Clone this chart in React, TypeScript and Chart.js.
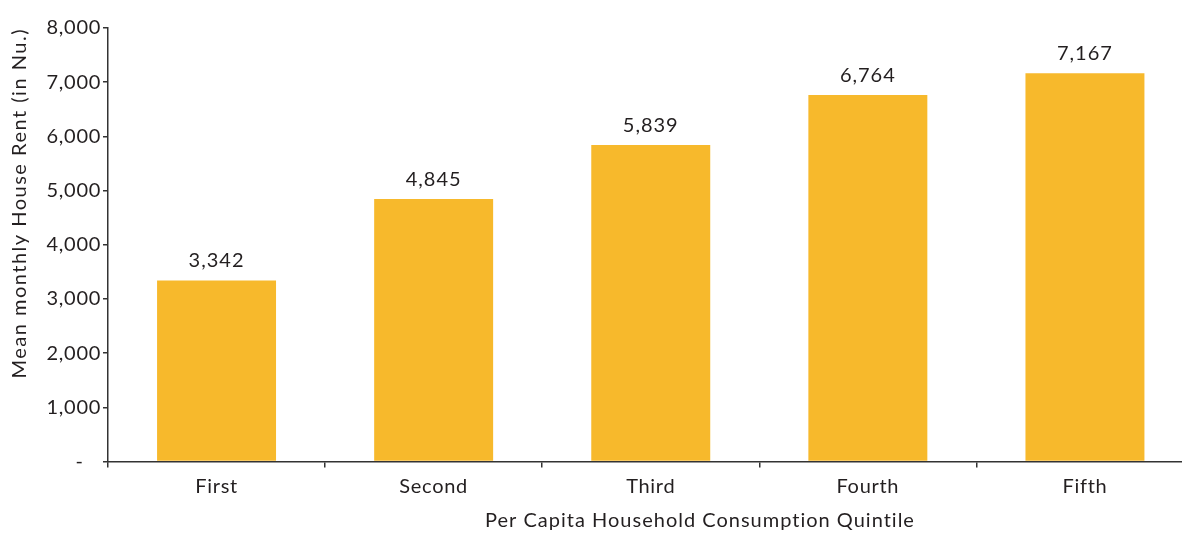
import React, { useEffect, useRef } from "react";
import { Chart, registerables } from "chart.js";

Chart.register(...registerables);

const categories: string[] = ["First", "Second", "Third", "Fourth", "Fifth"];
const rentValues: number[] = [3342, 4845, 5839, 6764, 7167];
const yMin = 0;
const yMax = 8000;
const yStep = 1000;
const yAxisTitle = "Mean monthly House Rent (in Nu.)";
const xAxisTitle = "Per Capita Household Consumption Quintile";

const FONT = "Lato";
const FS = 20;
const TEXT = "#231f20";
const BAR = "#F7B92C";
const AXIS = "#333333";

const fmt = (v: number) => v.toLocaleString("en-US");

export default function App() {
  const ref = useRef<HTMLCanvasElement | null>(null);

  useEffect(() => {
    if (!ref.current) return;
    const spacingPlugin = {
      id: "spacing",
      beforeDraw(chart: any) {
        chart.ctx.letterSpacing = "0.7px";
      },
    };
    const labelPlugin = {
      id: "barLabels",
      afterDatasetsDraw(chart: any) {
        const ctx = chart.ctx;
        const meta = chart.getDatasetMeta(0);
        ctx.save();
        ctx.font = `${FS}px ${FONT}`;
        ctx.letterSpacing = "1px";
        ctx.fillStyle = TEXT;
        ctx.textAlign = "center";
        ctx.textBaseline = "alphabetic";
        meta.data.forEach((el: any, i: number) => {
          ctx.fillText(fmt(rentValues[i]), el.x, el.y - 13);
        });
        ctx.restore();
      },
    };
    const titlesPlugin = {
      id: "titles",
      afterDraw(chart: any) {
        const ctx = chart.ctx;
        const area = chart.chartArea;
        ctx.save();
        ctx.font = `${FS}px ${FONT}`;
        ctx.fillStyle = TEXT;
        ctx.letterSpacing = "1px";
        ctx.textAlign = "center";
        ctx.textBaseline = "middle";
        ctx.fillText(xAxisTitle, area.left + 592, chart.height - 13);
        ctx.restore();

        ctx.save();
        ctx.font = `${FS}px ${FONT}`;
        ctx.fillStyle = TEXT;
        ctx.letterSpacing = "1.5px";
        ctx.translate(20, area.top);
        ctx.rotate(-Math.PI / 2);
        ctx.textAlign = "right";
        ctx.textBaseline = "middle";
        ctx.fillText(yAxisTitle, 0, 0);
        ctx.restore();
      },
    };
    const chart = new Chart(ref.current, {
      type: "bar",
      data: {
        labels: categories,
        datasets: [
          {
            data: rentValues,
            backgroundColor: BAR,
            borderWidth: 0,
            categoryPercentage: 1,
            barPercentage: 0.548,
          },
        ],
      },
      options: {
        responsive: false,
        animation: false,
        layout: { padding: { left: 0, right: 6.5, top: 28, bottom: 0 } },
        plugins: {
          legend: { display: false },
          tooltip: { enabled: false },
        },
        scales: {
          x: {
            afterFit: (scale: any) => {
              scale.height = 72.5;
            },
            grid: {
              display: true,
              drawOnChartArea: false,
              drawTicks: true,
              offset: true,
              tickLength: 6,
              color: AXIS,
              lineWidth: 1.5,
            },
            border: { display: true, color: AXIS, width: 1.5 },
            ticks: {
              color: TEXT,
              font: { family: FONT, size: FS },
              padding: 7,
            },
          },
          y: {
            min: yMin,
            max: yMax,
            afterFit: (scale: any) => {
              scale.width = 108;
            },
            grid: {
              display: true,
              drawOnChartArea: false,
              drawTicks: true,
              tickLength: 5,
              color: AXIS,
              lineWidth: 1.5,
            },
            border: { display: true, color: AXIS, width: 1.5 },
            ticks: {
              stepSize: yStep,
              color: TEXT,
              padding: 2,
              font: { family: FONT, size: FS },
              callback: (v: any) => (Number(v) === 0 ? "-   " : fmt(Number(v))),
            },
          },
        },
      },
      plugins: [spacingPlugin, labelPlugin, titlesPlugin],
    });
    return () => chart.destroy();
  }, []);

  return (
    <div
      style={{
        position: "absolute",
        left: 0,
        top: 0,
        width: 1182,
        height: 534,
        overflow: "hidden",
        background: "#fff",
      }}
    >
      <canvas ref={ref} width={1200} height={534} />
    </div>
  );
}
